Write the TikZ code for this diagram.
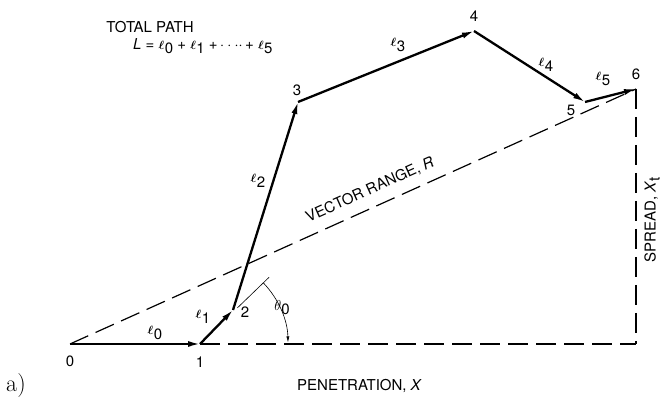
\documentclass[tikz,border=0pt]{standalone}
\usepackage{fontspec}
\setsansfont{TeX Gyre Heros}
\usepackage{bm}
\usetikzlibrary{arrows.meta,calc}
\newcommand{\lsub}[1]{{\large$\bm{\ell}$}\kern0.5pt\raisebox{-0.55ex}{#1}}
\tikzset{
  lbl/.style={inner sep=0pt, font=\fontsize{15}{17}\selectfont\sffamily},
  vec/.style={line width=2.3pt, -{Latex[length=13pt,width=6pt]}, shorten >=-1pt},
  dashln/.style={line width=1.2pt, dash pattern=on 20pt off 8pt},
}
\begin{document}
\begin{tikzpicture}[x=1pt,y=1pt]
\useasboundingbox (0,0) rectangle (664,403);
% points
\coordinate (p0) at (70,59);
\coordinate (p1) at (200,59);
\coordinate (p2) at (233,93);
\coordinate (p3) at (298,301);
\coordinate (p4) at (474,372);
\coordinate (p5) at (585,301);
\coordinate (p6) at (636,314);
\coordinate (pc) at (636,59);
\coordinate (t1) at ($(p1)+(44:52)$);
\coordinate (t2) at ($(p1)+(44:96)$);
\coordinate (a0) at ($(p1)+(44:88)$);
% dashed
\draw[dashln] (p0) -- (p6);
\draw[dashln] (p1) -- (pc);
\draw[dashln] (p6) -- (pc);
% theta
\draw[line width=0.6pt] (t1) -- (t2);
\draw[line width=0.6pt, -{Latex[length=6pt,width=3pt]}] (a0) arc[start angle=44, end angle=1, radius=88];
% vectors
\draw[vec] (p0) -- (p1);
\draw[vec] (p1) -- (p2);
\draw[vec] (p2) -- (p3);
\draw[vec] (p3) -- (p4);
\draw[vec] (p4) -- (p5);
\draw[vec] (p5) -- (p6);
% point labels
\node[lbl] (n0) at (70,42) {0};
\node[lbl] (n1) at (200,41) {1};
\node[lbl] (n2) at (245,91) {2};
\node[lbl] (n3) at (297,313) {3};
\node[lbl] (n4) at (474,387) {4};
\node[lbl] (n5) at (571,293) {5};
\node[lbl] (n6) at (636,329) {6};
% segment labels
\node[lbl] (l0) at (155,70) {\lsub{0}};
\node[lbl] (l1) at (203,86) {\lsub{1}};
\node[lbl] (l2) at (258,222) {\lsub{2}};
\node[lbl] (l3) at (398,358) {\lsub{3}};
\node[lbl] (l4) at (546,338) {\lsub{4}};
\node[lbl] (l5) at (603,324) {\lsub{5}};
\node[lbl] (th) at (282,95) {$\theta$\raisebox{-0.5ex}{0}};
% titles
\node[lbl] (tp) at (150,376) {TOTAL PATH};
\node[lbl, anchor=west] (form) at (133,357) {\textit{L} = \lsub{0} + \lsub{1} +\,$\cdot\cdot\cdot\cdot$\,+ \lsub{5}};
\node[lbl, rotate=24.2] (vr) at (370,213) {VECTOR RANGE, \textit{R}};
\node[lbl, rotate=90] (sp) at (652,183) {SPREAD, \textit{X}\raisebox{-0.5ex}{t}};
\node[lbl, anchor=west] (pen) at (297,17) {PENETRATION, \textit{X}};
\node[inner sep=0pt, font=\fontsize{24}{26}\selectfont\rmfamily] (a) at (16,17) {a)};
\end{tikzpicture}
\end{document}
